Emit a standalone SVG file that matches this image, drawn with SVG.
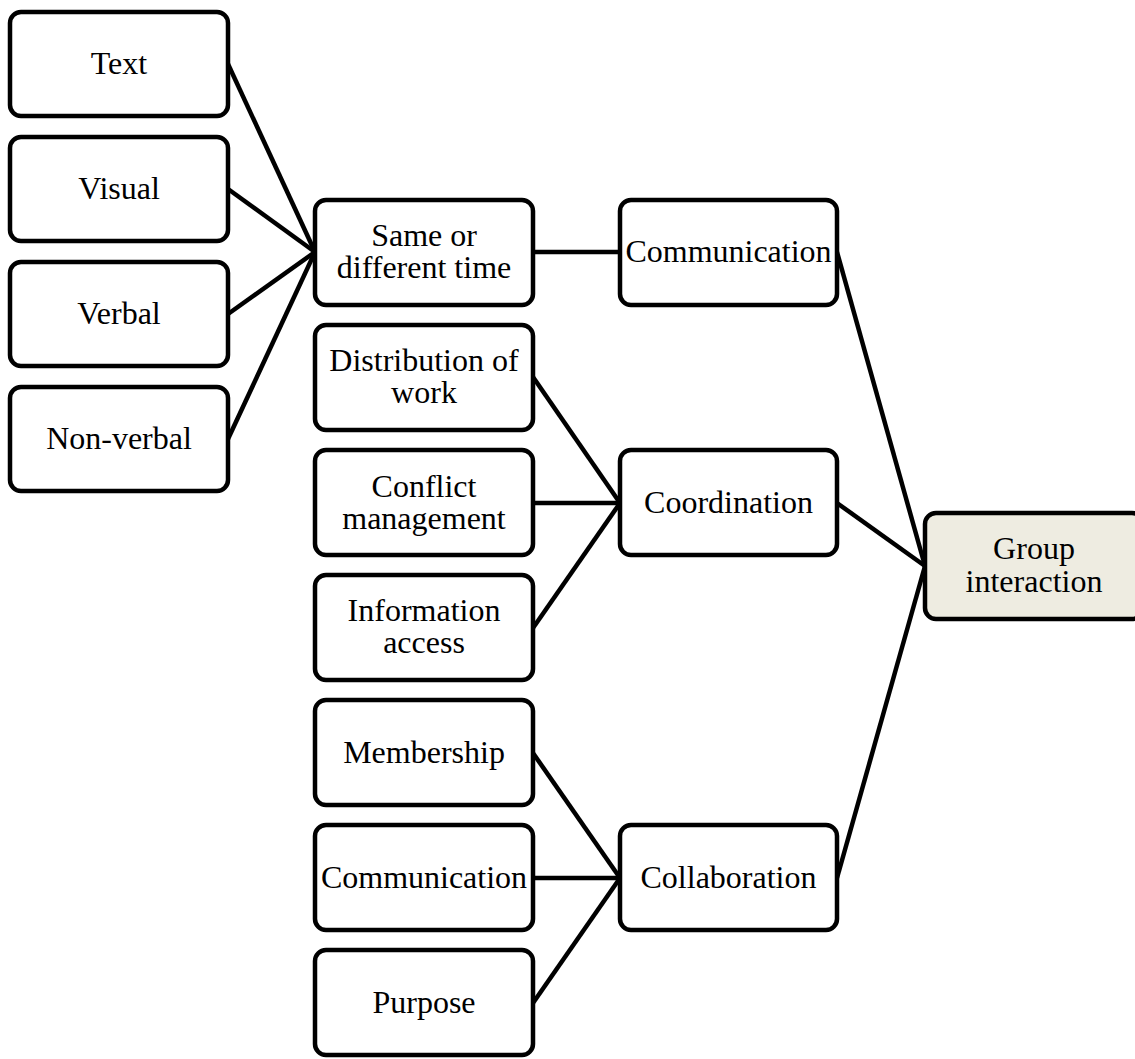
<svg xmlns="http://www.w3.org/2000/svg" width="1135" height="1059" viewBox="0 0 1135 1059">
<style>
.box{fill:#ffffff;stroke:#000000;stroke-width:4.5}
.root{fill:#EEECE1;stroke:#000000;stroke-width:4.5}
.lbl{font-family:"Liberation Serif","Times New Roman",serif;font-size:32px;fill:#000000;text-anchor:middle}
.edge{stroke:#000000;stroke-width:4.5;fill:none}
</style>
<rect width="1135" height="1059" fill="#ffffff"/>
<g id="connectors">
<line class="edge" x1="228" y1="64" x2="315" y2="252"/>
<line class="edge" x1="228" y1="189" x2="315" y2="252"/>
<line class="edge" x1="228" y1="314" x2="315" y2="252"/>
<line class="edge" x1="228" y1="439" x2="315" y2="252"/>
<line class="edge" x1="533" y1="252" x2="620" y2="252"/>
<line class="edge" x1="533" y1="377" x2="620" y2="503"/>
<line class="edge" x1="533" y1="503" x2="620" y2="503"/>
<line class="edge" x1="533" y1="628" x2="620" y2="503"/>
<line class="edge" x1="533" y1="753" x2="620" y2="878"/>
<line class="edge" x1="533" y1="878" x2="620" y2="878"/>
<line class="edge" x1="533" y1="1003" x2="620" y2="878"/>
<line class="edge" x1="837" y1="252" x2="925" y2="566"/>
<line class="edge" x1="837" y1="503" x2="925" y2="566"/>
<line class="edge" x1="837" y1="878" x2="925" y2="566"/>
</g>
<g id="n-text"><rect class="box" x="10" y="12" width="218" height="104" rx="11"/><text class="lbl" x="119" y="74">Text</text></g>
<g id="n-visual"><rect class="box" x="10" y="137" width="218" height="104" rx="11"/><text class="lbl" x="119" y="199">Visual</text></g>
<g id="n-verbal"><rect class="box" x="10" y="262" width="218" height="104" rx="11"/><text class="lbl" x="119" y="324">Verbal</text></g>
<g id="n-nonverbal"><rect class="box" x="10" y="387" width="218" height="104" rx="11"/><text class="lbl" x="119" y="449">Non-verbal</text></g>
<g id="n-same"><rect class="box" x="315" y="200" width="218" height="105" rx="11"/><text class="lbl" x="424" y="246">Same or</text><text class="lbl" x="424" y="278">different time</text></g>
<g id="n-distribution"><rect class="box" x="315" y="325" width="218" height="105" rx="11"/><text class="lbl" x="424" y="371">Distribution of</text><text class="lbl" x="424" y="403">work</text></g>
<g id="n-conflict"><rect class="box" x="315" y="450" width="218" height="105" rx="11"/><text class="lbl" x="424" y="497">Conflict</text><text class="lbl" x="424" y="529">management</text></g>
<g id="n-information"><rect class="box" x="315" y="575" width="218" height="105" rx="11"/><text class="lbl" x="424" y="621">Information</text><text class="lbl" x="424" y="653">access</text></g>
<g id="n-membership"><rect class="box" x="315" y="700" width="218" height="105" rx="11"/><text class="lbl" x="424" y="763">Membership</text></g>
<g id="n-communication2"><rect class="box" x="315" y="825" width="218" height="105" rx="11"/><text class="lbl" x="424" y="888">Communication</text></g>
<g id="n-purpose"><rect class="box" x="315" y="950" width="218" height="105" rx="11"/><text class="lbl" x="424" y="1013">Purpose</text></g>
<g id="n-communication"><rect class="box" x="620" y="200" width="217" height="105" rx="11"/><text class="lbl" x="728.5" y="262">Communication</text></g>
<g id="n-coordination"><rect class="box" x="620" y="450" width="217" height="105" rx="11"/><text class="lbl" x="728.5" y="513">Coordination</text></g>
<g id="n-collaboration"><rect class="box" x="620" y="825" width="217" height="105" rx="11"/><text class="lbl" x="728.5" y="888">Collaboration</text></g>
<g id="n-group"><rect class="root" x="925" y="513" width="218" height="106" rx="11"/><text class="lbl" x="1034" y="559">Group</text><text class="lbl" x="1034" y="592">interaction</text></g>
</svg>
